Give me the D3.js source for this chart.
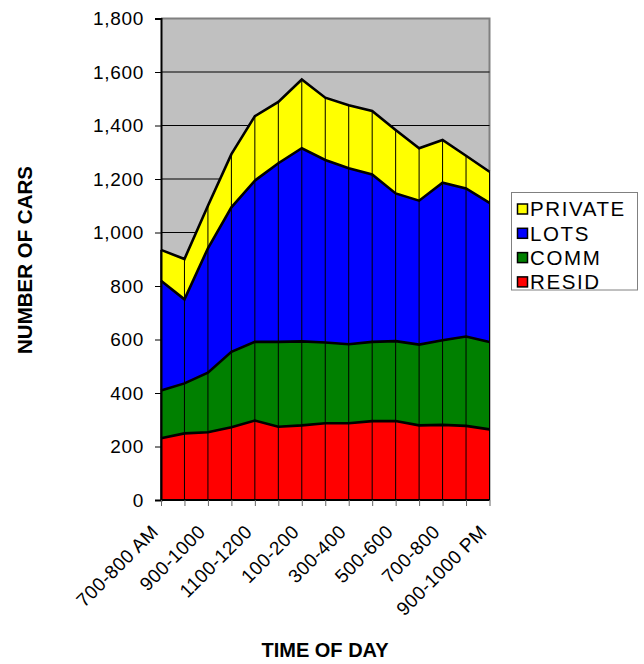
<!DOCTYPE html>
<html><head><meta charset="utf-8">
<script src="https://cdn.jsdelivr.net/npm/d3@7"></script>
<style>body{margin:0;background:#fff;} text{font-family:"Liberation Sans",Arial,sans-serif;}</style>
</head><body><svg id="c" width="644" height="664"></svg>
<script>
const categories = ["700-800 AM","800-900","900-1000","1000-1100","1100-1200","1200-100","100-200","200-300","300-400","400-500","500-600","600-700","700-800","800-900","900-1000 PM"];
const resid   = [231,249,253,272,297,274,279,287,287,295,295,279,281,277,264];
const comm    = [178,187,223,282,294,317,314,302,295,296,299,302,316,334,327];
const lots    = [411,314,465,540,603,668,722,682,658,626,552,538,589,554,520];
const privateCars = [115,151,159,199,241,229,257,233,236,237,237,196,160,122,116];
const seriesNames = ["RESID","COMM","LOTS","PRIVATE"];
const seriesColors = ["#FF0000","#008000","#0000FF","#FFFF00"];
const yTicks = [0,200,400,600,800,1000,1200,1400,1600,1800];

const rows = categories.map((c,i)=>({idx:i, RESID:resid[i], COMM:comm[i], LOTS:lots[i], PRIVATE:privateCars[i]}));
const svg = d3.select("#c");
const L=161, R=489.5, T=18.5, B=500;
const idx = d3.range(categories.length);
const x = d3.scalePoint().domain(idx).range([L,R]);
const y = d3.scaleLinear().domain([0,1800]).range([B,T]);
const fmt = d3.format(",");
const FONT = "'Liberation Sans',Arial,sans-serif";

// plot background
svg.append("rect").attr("x",L).attr("y",T).attr("width",R-L).attr("height",B-T).attr("fill","#C0C0C0");
svg.append("path").attr("d",`M${L},${T}H${R}V${B}`).attr("fill","none").attr("stroke","#808080").attr("stroke-width",2);
// gridlines
svg.append("g").selectAll("line").data(yTicks.slice(1,-1)).join("line")
  .attr("x1",L).attr("x2",R).attr("y1",d=>y(d)).attr("y2",d=>y(d)).attr("stroke","#000").attr("stroke-width",1);

const stacked = d3.stack().keys(seriesNames)(rows);
const area = d3.area().x(d=>x(d.data.idx)).y0(d=>y(d[0])).y1(d=>y(d[1]));
const line = d3.line().x(d=>x(d.data.idx)).y(d=>y(d[1]));
stacked.forEach((s,k)=>{
  svg.append("path").datum(s).attr("d",area).attr("fill",seriesColors[k]).attr("stroke","#000").attr("stroke-width",1);
});
// drop lines
const topSeries = stacked[stacked.length-1];
svg.append("g").selectAll("line").data(topSeries).join("line")
  .attr("x1",d=>x(d.data.idx)).attr("x2",d=>x(d.data.idx))
  .attr("y1",y(0)).attr("y2",d=>y(d[1])).attr("stroke","#000").attr("stroke-width",1);
stacked.forEach((s,k)=>{
  svg.append("path").datum(s).attr("d",line).attr("fill","none").attr("stroke","#000").attr("stroke-width",2.6).attr("stroke-linejoin","miter");
});

// y axis
const ya = svg.append("g").attr("transform",`translate(${L},0)`)
  .call(d3.axisLeft(y).tickValues(yTicks).tickFormat(fmt).tickSize(6).tickPadding(11));
ya.select(".domain").attr("stroke","#000").attr("stroke-width",2);
ya.selectAll(".tick line").attr("stroke","#000");
ya.selectAll("text").attr("font-size",19).attr("fill","#000").style("font-family",FONT).style("letter-spacing","0.7px");
// x axis
const xa = svg.append("g").attr("transform",`translate(0,${B})`)
  .call(d3.axisBottom(x).tickSize(6).tickFormat(i=>i%2===0?categories[i]:""));
xa.select(".domain").attr("stroke","#000").attr("stroke-width",2).attr("d",`M${L},0H${R}`);
xa.selectAll(".tick line").attr("stroke","#666");
xa.selectAll("text").attr("font-size",19).attr("fill","#000").style("font-family",FONT).style("letter-spacing","0.4px")
  .attr("text-anchor","end").attr("dy","0").attr("y",0)
  .attr("transform","translate(-2,33) rotate(-45)");

// titles
svg.append("text").attr("x",325).attr("y",657).attr("text-anchor","middle").attr("font-size",20).attr("font-weight","bold").text("TIME OF DAY");
svg.append("text").attr("transform","translate(32,260) rotate(-90)").attr("text-anchor","middle").attr("font-size",20.5).attr("font-weight","bold").text("NUMBER OF CARS");

// legend
const lg = svg.append("g");
lg.append("rect").attr("x",511.5).attr("y",192.5).attr("width",126).attr("height",97.5).attr("fill","#fff").attr("stroke","#808080").attr("stroke-width",1);
const legendOrder = ["PRIVATE","LOTS","COMM","RESID"];
legendOrder.forEach((n,i)=>{
  const cy = 209 + i*24.3;
  lg.append("rect").attr("x",517.5).attr("y",cy-5).attr("width",10).attr("height",10).attr("fill",seriesColors[seriesNames.indexOf(n)]).attr("stroke","#000").attr("stroke-width",1.5);
  lg.append("text").attr("x",530).attr("y",cy+7.3).attr("font-size",20.5).style("letter-spacing","1.6px").text(n);
});
</script></body></html>
